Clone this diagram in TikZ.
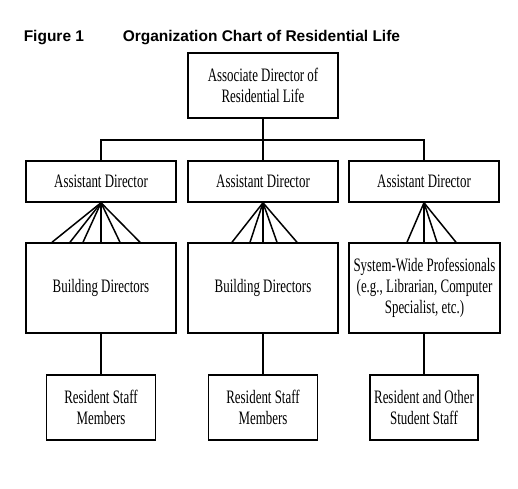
\documentclass[tikz,border=0pt]{standalone}
\usepackage{fontspec}
\setmainfont[FakeStretch=0.68]{Liberation Serif}
\newfontfamily\headfont{Liberation Sans}
\usepackage{tikz}

\begin{document}
\begin{tikzpicture}[x=1pt, y=-1pt, line width=1.5pt,
  box/.style={draw, rectangle, inner sep=0pt, align=center,
    font=\fontsize{19}{21}\selectfont},
  head/.style={anchor=base west, inner sep=0pt,
    font=\headfont\bfseries\fontsize{15.5}{18}\selectfont}]
 \useasboundingbox (0,0) rectangle (518,488);

 % Title
 \node[head] (fig) at (23,41) {Figure 1};
 \node[head] (title) at (122,41) {Organization Chart of Residential Life};

 % Top
 \node[box, minimum width=150, minimum height=65] (top) at (263,85.5)
   {Associate Director of\\Residential Life};

 % Assistant directors
 \foreach \i/\x in {1/101,2/263,3/424}
   \node[box, minimum width=150, minimum height=41] (a\i) at (\x,181.5) {Assistant Director};

 % Middle row
 \node[box, minimum width=150, minimum height=90] (b1) at (101,288) {Building Directors};
 \node[box, minimum width=150, minimum height=90] (b2) at (263,288) {Building Directors};
 \node[box, minimum width=151, minimum height=90] (b3) at (424.5,288)
   {System-Wide Professionals\\(e.g., Librarian, Computer\\Specialist, etc.)};

 % Bottom row
 \node[box, minimum width=109, minimum height=65] (r1) at (101,407.5) {Resident Staff\\Members};
 \node[box, minimum width=109, minimum height=65] (r2) at (263,407.5) {Resident Staff\\Members};
 \node[box, minimum width=108, minimum height=65] (r3) at (424,407.5)
   {Resident and Other\\Student Staff};

 % Lines from the top
 \coordinate (bus) at (263,140);
 \draw (top) -- (a2);
 \draw (a1.north) |- (bus) -| (a3.north);

 % Fans
 \foreach \dx in {-49,-31,-18,0,19,39}
   \draw (a1.south) -- ([xshift=\dx]b1.north);
 \foreach \dx in {-31,-13,0,14,34}
   \draw (a2.south) -- ([xshift=\dx]b2.north);
 \foreach \dx in {-17,0,13,32}
   \draw (a3.south) -- ([xshift=\dx]a3.south |- b3.north);

 % Down to staff
 \foreach \i in {1,2,3}
   \draw (b\i.south -| a\i.south) -- (r\i);
\end{tikzpicture}
\end{document}
